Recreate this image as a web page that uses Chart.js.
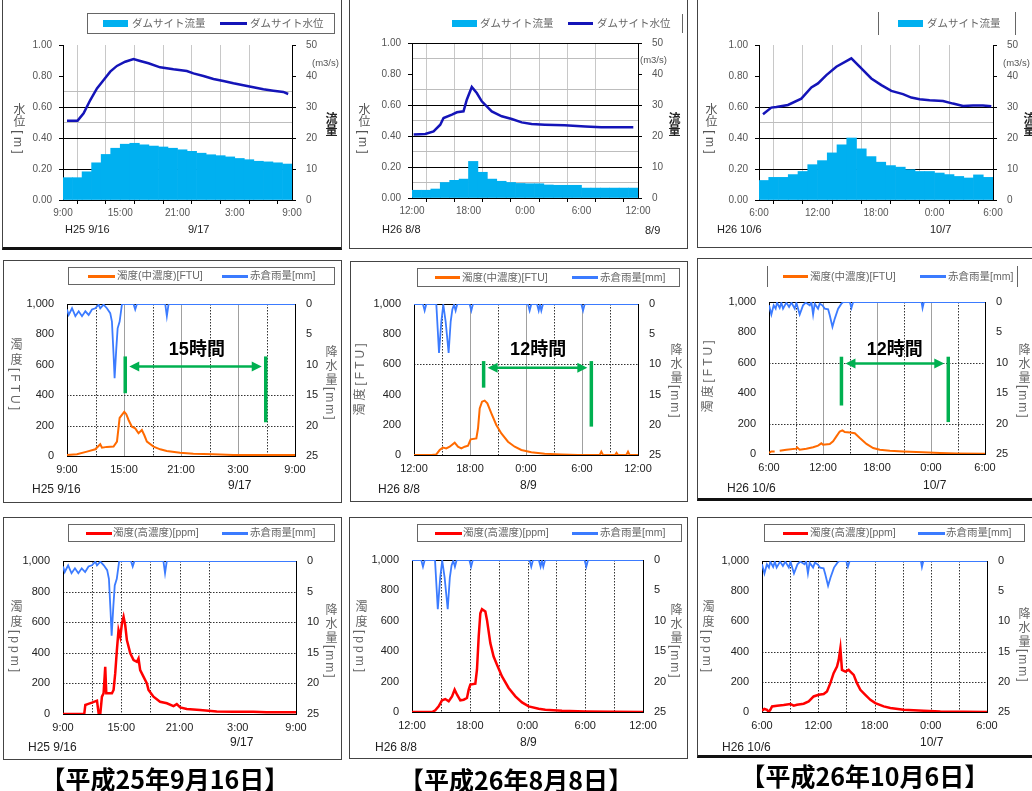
<!DOCTYPE html>
<html>
<head>
<meta charset="utf-8">
<script src="https://cdn.jsdelivr.net/npm/chart.js@4.4.1/dist/chart.umd.min.js"></script>
<style>
  body { margin: 0; width: 1032px; height: 791px; overflow: hidden; background: #fff; position: relative;
         font-family: "Liberation Sans", Arial, "Noto Sans CJK JP", sans-serif; }
  .frame { position: absolute; border: 1px solid #444; box-sizing: border-box; }
  canvas { position: absolute; }
  .t { position: absolute; white-space: nowrap; line-height: 1; color: #333; }
  .v { writing-mode: vertical-rl; }
  .leg { position: absolute; box-sizing: border-box; border-color: #666; border-style: solid; border-width: 0; }
  .sw { position: absolute; }
  .cap { position: absolute; white-space: nowrap; font-family: "Noto Sans CJK JP", sans-serif; font-weight: bold;
         font-size: 25px; line-height: 1; color: #000; transform: translate(-50%, -50%); }
</style>
</head>
<body>
<script>
// ---- data (hours from the left edge of each x axis) ----
const xLab9 = ['9:00', '', '15:00', '', '21:00', '', '3:00', '', '9:00'];
const xLab12 = ['12:00', '', '18:00', '', '0:00', '', '6:00', '', '12:00'];
const xLab6 = ['6:00', '', '12:00', '', '18:00', '', '0:00', '', '6:00'];

// dam site water level [m]
const level1T = [0.42, 1.53, 2.16, 2.86, 3.56, 4.26, 4.95, 5.65, 6.52, 7.39, 8.09, 8.96, 10.18, 11.58, 12.98, 13.67, 14.72, 15.77, 16.81, 17.86, 18.9, 19.95, 21.0, 22.04, 23.09, 23.6];
const level1V = [0.512, 0.512, 0.559, 0.645, 0.72, 0.774, 0.828, 0.865, 0.892, 0.91, 0.897, 0.882, 0.856, 0.843, 0.832, 0.817, 0.8, 0.781, 0.768, 0.753, 0.74, 0.727, 0.714, 0.705, 0.697, 0.684];
const level2T = [0.18, 1.41, 2.29, 3.0, 3.35, 4.24, 4.77, 5.47, 5.82, 6.35, 6.88, 7.41, 8.47, 9.53, 10.6, 11.65, 12.7, 14.1, 16.2, 18.4, 20.1, 23.5];
const level2V = [0.409, 0.413, 0.43, 0.473, 0.516, 0.538, 0.553, 0.559, 0.634, 0.716, 0.677, 0.624, 0.559, 0.527, 0.51, 0.488, 0.477, 0.473, 0.469, 0.462, 0.456, 0.456];
const level3T = [0.41, 1.26, 1.78, 2.97, 4.34, 5.37, 6.05, 6.91, 7.93, 9.47, 10.32, 11.52, 12.55, 13.57, 14.77, 15.62, 16.48, 17.5, 18.87, 19.9, 20.92, 21.95, 22.97, 23.83];
const level3V = [0.553, 0.596, 0.6, 0.613, 0.654, 0.726, 0.752, 0.806, 0.86, 0.914, 0.86, 0.784, 0.741, 0.704, 0.683, 0.661, 0.65, 0.644, 0.639, 0.622, 0.607, 0.609, 0.609, 0.605];

// dam site discharge [m3/s], hourly
const flow1 = [7.2, 7.2, 9.1, 12.0, 14.7, 16.7, 18.0, 18.3, 17.8, 17.4, 17.1, 16.7, 16.2, 15.7, 15.1, 14.6, 14.3, 13.9, 13.4, 13.0, 12.5, 12.3, 12.0, 11.6];
const flow2 = [2.5, 2.5, 2.9, 5.0, 5.7, 6.1, 11.8, 8.3, 6.1, 5.4, 5.0, 4.7, 4.6, 4.6, 4.2, 4.1, 4.1, 4.1, 3.2, 3.2, 3.2, 3.2, 3.2, 3.2];
const flow3 = [6.3, 7.3, 7.3, 8.2, 9.2, 11.4, 12.7, 15.2, 17.8, 20.0, 16.5, 14.0, 12.2, 11.1, 10.6, 9.8, 9.2, 9.2, 8.7, 8.2, 7.6, 7.1, 8.1, 7.3];

// Akakura rainfall [mm]
const rain1T = [0, 0.18, 0.53, 0.88, 1.23, 1.58, 1.93, 2.28, 2.63, 2.98, 3.33, 3.5, 3.85, 4.2, 4.55, 4.73, 4.9, 5.01, 5.19, 5.33, 5.54, 5.78, 5.96, 7.0, 7.18, 7.36, 10.34, 10.51, 10.69, 24];
const rain1V = [0.9, 1.8, 0.7, 2.0, 1.2, 2.0, 1.2, 1.8, 0.9, 0.7, 0.1, 0.7, 0.1, 0.7, 1.5, 2.9, 8.3, 12.2, 7.3, 4.0, 2.9, 0.1, 0, 0, 0.9, 0, 0, 2.0, 0, 0];
const rain2T = [0, 0.96, 1.14, 1.32, 2.39, 2.68, 2.93, 3.14, 3.39, 3.71, 3.93, 4.11, 4.29, 4.46, 4.64, 5.96, 6.14, 6.32, 12.21, 12.39, 12.57, 13.18, 13.36, 13.5, 13.64, 13.82, 17.93, 18.11, 18.29, 24];
const rain2V = [0, 0, 1.1, 0, 0, 8.1, 2.9, 0.1, 2.9, 8.1, 2.9, 0.9, 0.1, 1.1, 0, 0, 1.1, 0, 0, 1.1, 0, 0, 1.1, 0.1, 1.1, 0, 0, 1.1, 0, 0];
const rain3T = [0, 0.26, 0.52, 0.74, 0.89, 1.19, 1.37, 1.56, 1.93, 2.23, 2.49, 2.86, 3.04, 3.41, 3.78, 4.08, 4.53, 4.71, 4.9, 5.08, 5.45, 5.64, 5.93, 6.19, 6.57, 6.75, 7.05, 7.31, 7.68, 8.05, 8.23, 8.98, 9.16, 9.35, 16.95, 17.06, 17.21, 24];
const rain3V = [0.55, 2.07, 0.55, 1.09, 0.1, 0.98, 0.1, 1.09, 0.1, 0.82, 0.1, 1.09, 0.1, 2.07, 0.55, 0.1, 0.55, 0, 2.07, 0.27, 1.09, 0.27, 0.55, 1.09, 1.2, 2.18, 4.09, 2.73, 1.09, 0.27, 0, 0, 0.98, 0, 0, 0.98, 0, 0];

// turbidity, middle range [FTU]
const ftu1T = [0, 1.05, 2.1, 2.98, 3.5, 3.68, 4.2, 4.9, 5.26, 5.54, 5.78, 6.03, 6.24, 6.48, 6.83, 7.18, 7.53, 7.88, 8.13, 8.41, 9.11, 9.81, 10.5, 11.9, 13.3, 15.4, 17.5, 24];
const ftu1V = [7, 11, 29, 44, 77, 55, 60, 62, 95, 250, 270, 290, 275, 237, 193, 182, 150, 171, 138, 95, 62, 44, 33, 22, 15, 11, 7, 7];
const ftu2T = [0, 1.86, 2.39, 2.75, 3.1, 3.46, 3.82, 4.36, 4.71, 5.07, 5.43, 5.79, 6.07, 6.68, 6.86, 7.04, 7.29, 7.57, 7.86, 8.29, 8.82, 9.36, 10.07, 10.79, 11.5, 12.57, 14, 15.8, 17.57, 19.9, 20.07, 20.25, 21.55, 21.7, 21.86, 22.75, 22.93, 23.1, 24];
const ftu2V = [0, 0, 4, 33, 49, 44, 55, 82, 55, 44, 55, 62, 104, 110, 177, 309, 353, 360, 342, 276, 199, 143, 88, 55, 33, 18, 9, 4, 0, 0, 22, 0, 0, 15, 0, 0, 22, 0, 0];
const ftu3T = [0, 0.26, 0.63, 0.9, 1.19, 1.93, 3.04, 3.12, 3.41, 4.15, 4.9, 5.45, 5.82, 6.0, 6.75, 7.12, 7.49, 7.86, 8.16, 8.42, 8.98, 9.53, 10.09, 10.83, 11.57, 12.31, 13.43, 14.9, 17.1, 19.0, 20.85, 24];
const ftu3V = [7, 17, 17, null, 22, 28, 35, 44, 28, 35, 44, 55, 70, 61, 65, 83, 116, 148, 155, 144, 142, 137, 105, 66, 39, 28, 22, 17, 11, 7, 4, 2];

// turbidity, high range [ppm]
const ppm1T = [0, 2.19, 2.3, 2.54, 2.98, 3.5, 3.67, 3.84, 4.01, 4.18, 4.35, 4.46, 5.04, 5.21, 5.38, 5.55, 5.72, 5.9, 6.07, 6.24, 6.41, 6.58, 6.93, 7.27, 7.61, 7.78, 7.95, 8.3, 8.64, 8.81, 9.32, 10.0, 10.7, 11.38, 11.72, 12.07, 12.75, 14.12, 15.84, 17.55, 19.6, 20.98, 24];
const ppm1V = [0, 0, 59, 65, 74, 87, 4, 0, 113, 135, 309, 135, 135, 157, 267, 417, 548, 504, 591, 635, 580, 483, 396, 352, 341, 363, 287, 243, 200, 157, 113, 80, 70, 52, 65, 43, 33, 26, 17, 15, 15, 11, 11];
const ppm2T = [0, 2.08, 2.42, 2.77, 3.12, 3.46, 3.81, 4.16, 4.43, 4.68, 5.02, 5.37, 5.71, 5.89, 6.06, 6.58, 6.75, 6.93, 7.1, 7.27, 7.62, 7.79, 8.14, 8.48, 8.83, 9.35, 10.04, 10.74, 11.43, 12.12, 13.16, 13.85, 15.58, 18.0, 20.78, 24];
const ppm2V = [0, 0, 11, 37, 77, 85, 70, 103, 147, 114, 77, 81, 92, 147, 180, 186, 278, 497, 650, 676, 661, 606, 453, 365, 311, 234, 158, 103, 63, 37, 22, 15, 9, 4, 2, 0];
const ppm3T = [0, 0.25, 0.53, 0.71, 0.89, 1.07, 1.6, 2.31, 3.02, 3.38, 3.73, 4.44, 4.98, 5.51, 6.04, 6.58, 6.93, 7.29, 7.64, 8.0, 8.18, 8.36, 8.53, 8.89, 9.24, 9.42, 9.78, 10.13, 10.49, 11.02, 11.56, 12.09, 12.98, 13.69, 15.1, 17.24, 19.02, 24];
const ppm3V = [9, 20, 15, 0, 15, 37, 42, 46, 53, 42, 48, 55, 70, 103, 114, 119, 136, 191, 257, 301, 345, 422, 279, 268, 279, 268, 246, 191, 147, 114, 81, 59, 37, 26, 15, 9, 4, 0];

// green duration markers (hours / FTU)
const span1 = { x1: 6.13, x2: 20.92, top: 655, bottom1: 413, bottom2: 222, arrow: 589, lx: 13.67, ly: 699, label: '15時間' };
const span2 = { x1: 7.46, x2: 19.0, top: 622, bottom1: 446, bottom2: 188, arrow: 578, lx: 13.3, ly: 695, label: '12時間' };
const span3 = { x1: 8.05, x2: 19.92, top: 640, bottom1: 319, bottom2: 210, arrow: 596, lx: 13.98, ly: 683, label: '12時間' };

// ---- layout ----
const LW = 46, RW = 36, XH = 28;
Chart.defaults.font.family = '"Liberation Sans", Arial, "Noto Sans CJK JP", sans-serif';

const pts = (t, v) => t.map((x, i) => ({ x: x, y: v[i] }));
const near = (v, list) => list.some(g => Math.abs(g - v) < 1e-6);
const clear = 'rgba(0,0,0,0)';

function seg(ctx, x1, y1, x2, y2) {
    ctx.beginPath();
    ctx.moveTo(x1, y1);
    ctx.lineTo(x2, y2);
    ctx.stroke();
}

// dotted / grey grid lines and the black plot box of the quality charts
const gridFrame = {
    id: 'gridFrame',
    beforeDatasetsDraw(chart, args, o) {
        if (!o || !o.on) return;
        const { ctx, chartArea: a, scales } = chart;
        const px = v => Math.round(scales.x.getPixelForValue(v)) + 0.5;
        const py = v => Math.round(scales.y.getPixelForValue(v)) + 0.5;
        ctx.save();
        ctx.lineWidth = 1;
        ctx.strokeStyle = '#a0a0a0';
        o.vSolid.forEach(v => seg(ctx, px(v), a.top, px(v), a.bottom));
        ctx.setLineDash([1.5, 1.5]);
        ctx.strokeStyle = '#333';
        o.vDots.forEach(v => seg(ctx, px(v), a.top, px(v), a.bottom));
        o.hDots.forEach(v => seg(ctx, a.left, py(v), a.right, py(v)));
        ctx.setLineDash([]);
        ctx.strokeStyle = '#000';
        ctx.strokeRect(Math.round(a.left) + 0.5, Math.round(a.top) + 0.5,
                       Math.round(a.right - a.left), Math.round(a.bottom - a.top));
        ctx.restore();
    }
};

// green "xx時間" marker
const spanMark = {
    id: 'spanMark',
    afterDatasetsDraw(chart, args, o) {
        if (!o || o.x1 === undefined) return;
        const { ctx, scales: { x, y } } = chart;
        const x1 = x.getPixelForValue(o.x1), x2 = x.getPixelForValue(o.x2);
        const yt = y.getPixelForValue(o.top), ya = y.getPixelForValue(o.arrow);
        ctx.save();
        ctx.strokeStyle = '#00B050';
        ctx.fillStyle = '#00B050';
        ctx.lineWidth = 3.5;
        seg(ctx, x1, yt, x1, y.getPixelForValue(o.bottom1));
        seg(ctx, x2, yt, x2, y.getPixelForValue(o.bottom2));
        const a1 = x1 + 4, a2 = x2 - 4;
        ctx.lineWidth = 2.5;
        seg(ctx, a1 + 6, ya, a2 - 6, ya);
        ctx.beginPath();
        ctx.moveTo(a1, ya); ctx.lineTo(a1 + 10, ya - 5); ctx.lineTo(a1 + 10, ya + 5); ctx.closePath();
        ctx.moveTo(a2, ya); ctx.lineTo(a2 - 10, ya - 5); ctx.lineTo(a2 - 10, ya + 5); ctx.closePath();
        ctx.fill();
        ctx.fillStyle = '#000';
        ctx.font = 'bold 18px "Liberation Sans", Arial, "Noto Sans CJK JP"';
        ctx.textAlign = 'center';
        ctx.textBaseline = 'middle';
        ctx.fillText(o.label, x.getPixelForValue(o.lx), y.getPixelForValue(o.ly));
        ctx.restore();
    }
};

function makeCanvas(f) {
    const c = document.createElement('canvas');
    c.width = f[2] - f[0];
    c.height = f[3] - f[1];
    c.style.left = f[0] + 'px';
    c.style.top = f[1] + 'px';
    document.body.appendChild(c);
    return c;
}

function padFor(p) {
    return {
        left: p.plot[0] - p.frame[0] - LW,
        top: p.plot[1] - p.frame[1],
        right: p.frame[2] - p.plot[2] - RW,
        bottom: p.frame[3] - p.plot[3] - XH
    };
}

function xAxis(p, row1) {
    return {
        type: 'linear', min: 0, max: 24, offset: false,
        afterFit: s => { s.height = XH; },
        ticks: {
            stepSize: 3, autoSkip: false, maxRotation: 0,
            padding: row1 ? 3 : 7,
            color: row1 ? '#555' : '#222',
            font: { size: row1 ? 10 : 11 },
            callback: v => p.xLabels[Math.round(v / 3)] || ''
        },
        grid: row1
            ? { color: c => (c.tick && c.tick.value > 0 && c.tick.value < 24) ? '#c8c8c8' : clear,
                tickColor: '#000', tickLength: 4 }
            : { display: false, drawTicks: false },
        border: { display: row1, color: '#000' }
    };
}

function buildFlow(p) {
    new Chart(makeCanvas(p.frame), {
        type: 'bar',
        data: {
            datasets: [
                { type: 'line', data: pts(p.levelT, p.levelV), yAxisID: 'y', borderColor: '#1414B8',
                  borderWidth: 2.5, pointRadius: 0, tension: 0, order: 0 },
                { type: 'bar', data: p.flow.map((v, i) => ({ x: i + 0.5, y: v })), yAxisID: 'y2',
                  backgroundColor: '#00B0F0', borderWidth: 0, barPercentage: 1, categoryPercentage: 1, order: 1 }
            ]
        },
        options: {
            responsive: false, animation: false, events: [],
            layout: { padding: padFor(p) },
            plugins: { legend: { display: false }, tooltip: { enabled: false } },
            scales: {
                x: xAxis(p, true),
                y: {
                    position: 'left', min: 0, max: 1,
                    afterFit: s => { s.width = LW; },
                    ticks: { stepSize: 0.2, padding: 7, color: '#555', font: { size: 10 }, callback: v => v.toFixed(2) },
                    grid: { color: c => (c.tick && near(c.tick.value, p.black)) ? '#000' : clear, tickColor: '#000', tickLength: 4 },
                    border: { color: '#000' }
                },
                y2: {
                    position: 'right', min: 0, max: 50,
                    afterFit: s => { s.width = RW; },
                    ticks: { stepSize: 5, padding: 10, color: '#555', font: { size: 10 }, callback: v => v % 10 === 0 ? v : '' },
                    grid: { color: c => (c.tick && near(c.tick.value, p.grey)) ? '#bdbdbd' : clear,
                            tickColor: c => (c.tick && c.tick.value % 10 === 0) ? '#000' : clear, tickLength: 4 },
                    border: { color: '#000' }
                }
            }
        }
    });
}

function buildQuality(p) {
    new Chart(makeCanvas(p.frame), {
        type: 'line',
        data: {
            datasets: [
                { data: pts(p.qT, p.qV), yAxisID: 'y', borderColor: p.qColor, borderWidth: p.qWidth,
                  pointRadius: 0, tension: 0, spanGaps: false, order: 1 },
                { data: pts(p.rainT, p.rainV), yAxisID: 'y2', borderColor: '#3B7BFF', borderWidth: 1.8,
                  pointRadius: 0, tension: 0, order: 0 }
            ]
        },
        options: {
            responsive: false, animation: false, events: [],
            layout: { padding: padFor(p) },
            plugins: {
                legend: { display: false }, tooltip: { enabled: false },
                gridFrame: { on: true, hDots: p.hDots, vDots: p.vDots, vSolid: p.vSolid },
                spanMark: p.span || {}
            },
            scales: {
                x: xAxis(p, false),
                y: {
                    position: 'left', min: 0, max: 1000,
                    afterFit: s => { s.width = LW; },
                    ticks: { stepSize: 200, padding: 13, color: '#222', font: { size: 11 }, callback: v => v.toLocaleString('en-US') },
                    grid: { display: false, drawTicks: false }, border: { display: false }
                },
                y2: {
                    position: 'right', min: 0, max: 25, reverse: true,
                    afterFit: s => { s.width = RW; },
                    ticks: { stepSize: 5, padding: 11, color: '#222', font: { size: 11 } },
                    grid: { display: false, drawTicks: false }, border: { display: false }
                }
            }
        },
        plugins: [gridFrame, spanMark]
    });
}

// ---- panels ----
const dots3 = [3, 9, 15, 21], solid6 = [6, 12, 18], allDots = [3, 6, 9, 12, 15, 18, 21];
const panels = [
    { kind: 'flow', frame: [2, -3, 342, 250], plot: [63, 45, 292, 200], levelT: level1T, levelV: level1V, flow: flow1, xLabels: xLab9, black: [0.2, 0.4, 0.6], grey: [25, 35] },
    { kind: 'flow', frame: [349, -3, 688, 249], plot: [412, 43, 638, 198], levelT: level2T, levelV: level2V, flow: flow2, xLabels: xLab12, black: [0.2, 0.4, 0.6, 1.0], grey: [5, 15, 25, 35, 45] },
    { kind: 'flow', frame: [697, -3, 1040, 248], plot: [759, 45, 993, 200], levelT: level3T, levelV: level3V, flow: flow3, xLabels: xLab6, black: [0.2, 0.4, 0.6], grey: [25] },
    { kind: 'q', frame: [3, 260, 342, 503], plot: [67, 304, 295, 456], qT: ftu1T, qV: ftu1V, qColor: '#FF6A00', qWidth: 2, rainT: rain1T, rainV: rain1V, xLabels: xLab9, hDots: [200, 400], vDots: dots3, vSolid: solid6, span: span1 },
    { kind: 'q', frame: [350, 261, 688, 502], plot: [414, 304, 638, 455], qT: ftu2T, qV: ftu2V, qColor: '#FF6A00', qWidth: 2, rainT: rain2T, rainV: rain2V, xLabels: xLab12, hDots: [600], vDots: dots3, vSolid: solid6, span: span2 },
    { kind: 'q', frame: [697, 258, 1040, 501], plot: [769, 302, 985, 454], qT: ftu3T, qV: ftu3V, qColor: '#FF6A00', qWidth: 2, rainT: rain3T, rainV: rain3V, xLabels: xLab6, hDots: [200, 600], vDots: dots3, vSolid: solid6, span: span3 },
    { kind: 'q', frame: [3, 517, 342, 760], plot: [63, 561, 296, 714], qT: ppm1T, qV: ppm1V, qColor: '#FF0000', qWidth: 2.5, rainT: rain1T, rainV: rain1V, xLabels: xLab9, hDots: [200, 400, 600, 800], vDots: [3, 6, 9, 12, 15], vSolid: [] },
    { kind: 'q', frame: [349, 517, 688, 759], plot: [412, 560, 643, 712], qT: ppm2T, qV: ppm2V, qColor: '#FF0000', qWidth: 2.5, rainT: rain2T, rainV: rain2V, xLabels: xLab12, hDots: [], vDots: allDots, vSolid: [] },
    { kind: 'q', frame: [697, 517, 1040, 758], plot: [762, 561, 987, 712], qT: ppm3T, qV: ppm3V, qColor: '#FF0000', qWidth: 2.5, rainT: rain3T, rainV: rain3V, xLabels: xLab6, hDots: [200, 400], vDots: allDots, vSolid: [] }
];
const thickBottom = [0, 5, 8];

panels.forEach((p, i) => {
    const d = document.createElement('div');
    d.className = 'frame';
    d.style.left = p.frame[0] + 'px';
    d.style.top = p.frame[1] + 'px';
    d.style.width = (p.frame[2] - p.frame[0]) + 'px';
    d.style.height = (p.frame[3] - p.frame[1]) + 'px';
    if (thickBottom.includes(i)) d.style.borderBottom = '3px solid #111';
    document.body.appendChild(d);
    if (p.kind === 'flow') buildFlow(p); else buildQuality(p);
});

// ---- texts ----
function text(s, x, y, size, extra) {
    const e = document.createElement('div');
    e.className = 't';
    e.textContent = s;
    e.style.left = x + 'px';
    e.style.top = y + 'px';
    e.style.fontSize = size + 'px';
    if (extra) Object.assign(e.style, extra);
    document.body.appendChild(e);
    return e;
}
function vtext(s, cx, y, size, extra) {
    const e = text(s, cx - size / 2, y, size, extra);
    e.classList.add('v');
    return e;
}
function rtext(s, cx, cy, size, extra) {
    const e = text(s, cx, cy, size, extra);
    e.style.transform = 'translate(-50%, -50%) rotate(-90deg)';
    return e;
}

// date labels
[['H25 9/16', 65, 224, 11], ['9/17', 188, 224, 11], ['H26 8/8', 382, 224, 11], ['8/9', 645, 225, 11],
 ['H26 10/6', 717, 224, 11], ['10/7', 930, 224, 11],
 ['H25 9/16', 32, 483, 12], ['9/17', 228, 479, 12], ['H26 8/8', 378, 483, 12], ['8/9', 520, 479, 12],
 ['H26 10/6', 727, 482, 12], ['10/7', 923, 479, 12],
 ['H25 9/16', 28, 741, 12], ['9/17', 230, 736, 12], ['H26 8/8', 375, 741, 12], ['8/9', 520, 736, 12],
 ['H26 10/6', 722, 741, 12], ['10/7', 920, 736, 12]].forEach(a => text(a[0], a[1], a[2], a[3], { color: '#222' }));

// row 1 axis titles
[18, 363, 710].forEach(x => vtext('水位 [ m ]', x, 103, 12, { color: '#555' }));
[330, 673, 1028].forEach(x => vtext('流量', x, 112, 12, { color: '#222', fontWeight: 'bold' }));
[[312, 58], [640, 55], [1003, 58]].forEach(a => text('(m3/s)', a[0], a[1], 9.5, { color: '#555' }));

// rows 2-3 axis titles
vtext('濁度[FTU]', 15, 338, 12, { color: '#666', letterSpacing: '3px' });
rtext('濁度[FTU]', 360, 378, 12, { color: '#666', letterSpacing: '3px' });
rtext('濁度[FTU]', 708, 375, 12, { color: '#666', letterSpacing: '3px' });
[15, 360, 707].forEach(x => vtext('濁度[ppm]', x, 600, 12, { color: '#666', letterSpacing: '3px' }));
[[330, 345], [675, 343], [1023, 343], [330, 603], [675, 603], [1023, 607]]
    .forEach(a => vtext('降水量[mm]', a[0], a[1], 12, { color: '#666', letterSpacing: '2px' }));

// legends
function legend(box, sides, items) {
    const b = document.createElement('div');
    b.className = 'leg';
    b.style.left = box[0] + 'px';
    b.style.top = box[1] + 'px';
    b.style.width = (box[2] - box[0]) + 'px';
    b.style.height = (box[3] - box[1]) + 'px';
    b.style.borderWidth = sides;
    document.body.appendChild(b);
    const cy = (box[1] + box[3]) / 2;
    items.forEach(it => {
        const s = document.createElement('div');
        s.className = 'sw';
        const h = it.bar ? 7 : 3;
        s.style.left = it.sx + 'px';
        s.style.top = (cy - h / 2) + 'px';
        s.style.width = it.sw + 'px';
        s.style.height = h + 'px';
        s.style.background = it.color;
        document.body.appendChild(s);
        text(it.text, it.tx, cy - 6, 10.5, { color: '#666' });
    });
}
const flowName = 'ダムサイト流量', levelName = 'ダムサイト水位';
const ftuName = '濁度(中濃度)[FTU]', ppmName = '濁度(高濃度)[ppm]', rainName = '赤倉雨量[mm]';
legend([87, 13, 335, 34], '1px', [
    { bar: true, color: '#00B0F0', sx: 103, sw: 25, tx: 132, text: flowName },
    { color: '#1414B8', sx: 220, sw: 27, tx: 250, text: levelName }]);
legend([400, 14, 683, 33], '0 1px 0 0', [
    { bar: true, color: '#00B0F0', sx: 452, sw: 25, tx: 480, text: flowName },
    { color: '#1414B8', sx: 568, sw: 25, tx: 597, text: levelName }]);
legend([878, 12, 1016, 35], '0 1px 0 1px', [
    { bar: true, color: '#00B0F0', sx: 898, sw: 25, tx: 927, text: flowName }]);
legend([68, 267, 335, 285], '1px', [
    { color: '#FF6A00', sx: 88, sw: 27, tx: 117, text: ftuName },
    { color: '#3B7BFF', sx: 222, sw: 26, tx: 250, text: rainName }]);
legend([417, 268, 680, 287], '1px', [
    { color: '#FF6A00', sx: 435, sw: 25, tx: 462, text: ftuName },
    { color: '#3B7BFF', sx: 572, sw: 26, tx: 600, text: rainName }]);
legend([767, 266, 1018, 287], '0 1px 0 1px', [
    { color: '#FF6A00', sx: 783, sw: 25, tx: 810, text: ftuName },
    { color: '#3B7BFF', sx: 920, sw: 26, tx: 948, text: rainName }]);
legend([68, 524, 335, 542], '1px', [
    { color: '#FF0000', sx: 86, sw: 26, tx: 113, text: ppmName },
    { color: '#3B7BFF', sx: 222, sw: 26, tx: 250, text: rainName }]);
legend([417, 524, 682, 542], '1px', [
    { color: '#FF0000', sx: 435, sw: 27, tx: 463, text: ppmName },
    { color: '#3B7BFF', sx: 572, sw: 26, tx: 600, text: rainName }]);
legend([764, 524, 1025, 542], '1px', [
    { color: '#FF0000', sx: 783, sw: 25, tx: 810, text: ppmName },
    { color: '#3B7BFF', sx: 918, sw: 27, tx: 946, text: rainName }]);

// captions
[['【平成25年9月16日】', 165, 778], ['【平成26年8月8日】', 516, 779], ['【平成26年10月6日】', 865, 775]].forEach(a => {
    const e = document.createElement('div');
    e.className = 'cap';
    e.textContent = a[0];
    e.style.left = a[1] + 'px';
    e.style.top = a[2] + 'px';
    document.body.appendChild(e);
});
</script>
</body>
</html>
